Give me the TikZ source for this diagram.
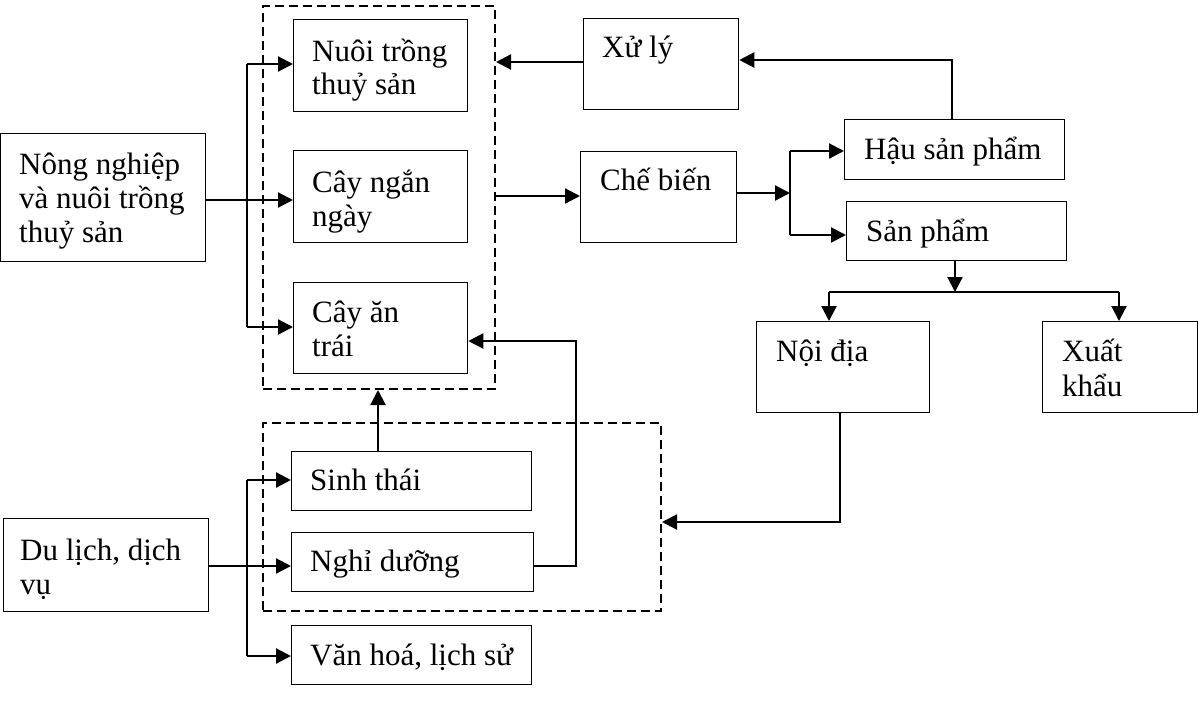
\documentclass[tikz,border=0pt]{standalone}
\usepackage{fontspec}
\setmainfont{Liberation Serif}
\usetikzlibrary{arrows.meta,calc}
\begin{document}
\begin{tikzpicture}[x=1pt,y=-1pt,
  box/.style={draw,line width=1.3pt,rectangle,inner sep=0pt,anchor=north west},
  grp/.style={draw,line width=2pt,dash pattern=on 9pt off 5pt,rectangle,inner sep=0pt,anchor=north west},
  lbl/.style={anchor=base west,inner sep=0pt,font=\fontsize{31}{34.5}\selectfont},
  arr/.style={line width=2.2pt,-{Triangle[length=15pt,width=15pt]}},
  ln/.style={line width=2.2pt},
  trunk/.style={line width=1.5pt}]
\useasboundingbox (0,0) rectangle (1200,702);
% boxes
\node[box,minimum width=205pt,minimum height=128pt] (nong) at (0,133) {};
\node[grp,minimum width=232pt,minimum height=383pt] (grp1) at (262,5) {};
\node[box,minimum width=174pt,minimum height=92pt] (nuoi) at (293,19) {};
\node[box,minimum width=174pt,minimum height=92pt] (ngan) at (293,150) {};
\node[box,minimum width=174pt,minimum height=91pt] (antrai) at (293,282) {};
\node[box,minimum width=155pt,minimum height=91pt] (xuly) at (583,18) {};
\node[box,minimum width=156pt,minimum height=91pt] (chebien) at (580,151) {};
\node[box,minimum width=220pt,minimum height=60pt] (hau) at (844,119) {};
\node[box,minimum width=220pt,minimum height=59pt] (sanpham) at (846,201) {};
\node[box,minimum width=173pt,minimum height=91pt] (noidia) at (756,321) {};
\node[box,minimum width=155pt,minimum height=91pt] (xuatkhau) at (1042,321) {};
\node[grp,minimum width=398pt,minimum height=188pt] (grp2) at (262,422) {};
\node[box,minimum width=240pt,minimum height=59pt] (sinhthai) at (291,451) {};
\node[box,minimum width=242pt,minimum height=59pt] (nghi) at (291,532) {};
\node[box,minimum width=240pt,minimum height=59pt] (vanhoa) at (291,625) {};
\node[box,minimum width=205pt,minimum height=93pt] (dulich) at (3,518) {};
% labels
\node[lbl] (tnong1) at (19,174) {Nông nghiệp};
\node[lbl] (tnong2) at (19,208) {và nuôi trồng};
\node[lbl] (tnong3) at (19,242) {thuỷ sản};
\node[lbl] (tnuoi1) at (312,61) {Nuôi trồng};
\node[lbl] (tnuoi2) at (312,94) {thuỷ sản};
\node[lbl] (tngan1) at (312,192) {Cây ngắn};
\node[lbl] (tngan2) at (312,226) {ngày};
\node[lbl] (tantrai1) at (312,322) {Cây ăn};
\node[lbl] (tantrai2) at (312,356) {trái};
\node[lbl] (txuly) at (602,57) {Xử lý};
\node[lbl] (tchebien) at (600,190) {Chế biến};
\node[lbl] (thau) at (864,159) {Hậu sản phẩm};
\node[lbl] (tsanpham) at (866,241) {Sản phẩm};
\node[lbl] (tnoidia) at (776,361) {Nội địa};
\node[lbl] (txk1) at (1062,361) {Xuất};
\node[lbl] (txk2) at (1062,396) {khẩu};
\node[lbl] (tsinhthai) at (310,490) {Sinh thái};
\node[lbl] (tnghi) at (310,571) {Nghỉ dưỡng};
\node[lbl] (tvanhoa) at (310,665) {Văn hoá, lịch sử};
\node[lbl] (tdl1) at (20,560) {Du lịch, dịch};
\node[lbl] (tdl2) at (20,594) {vụ};
% junction coordinates
\coordinate (j1) at (247,64);
\coordinate (j2) at (247,327);
\coordinate (jy) at (0,200);
\coordinate (j3) at (790,193);
\coordinate (j4) at (790,151);
\coordinate (j5) at (790,235);
\coordinate (j6) at (829,292);
\coordinate (j7) at (1119,292);
\coordinate (jm) at (955,292);
\coordinate (j8) at (840,522);
\coordinate (j9) at (576,566);
\coordinate (j10) at (576,341);
\coordinate (j11) at (378,451);
\coordinate (j12) at (247,480);
\coordinate (j13) at (247,656);
\coordinate (j14) at (0,566);
\coordinate (j15) at (952,60);
% connectors: agriculture
\draw[arr] (nong.east |- jy) -- (ngan.west |- jy);
\draw[trunk] (j1) -- (j2);
\draw[arr] (j1) -- (nuoi.west |- j1);
\draw[arr] (j2) -- (antrai.west |- j2);
% processing chain
\draw[arr] (xuly.west |- 0,62) -- (grp1.east |- 0,62);
\draw[arr] (grp1.east |- 0,196) -- (chebien.west |- 0,196);
\draw[arr] (chebien.east |- j3) -- (j3);
\draw[trunk] (j4) -- (j5);
\draw[arr] (j4) -- (hau.west |- j4);
\draw[arr] (j5) -- (sanpham.west |- j5);
\draw[arr] (hau.north -| j15) -- (j15) -- (xuly.east |- j15);
\draw[arr] (sanpham.south -| jm) -- (jm);
\draw[trunk] (j6) -- (j7);
\draw[arr] (j6) -- (noidia.north -| j6);
\draw[arr] (j7) -- (xuatkhau.north -| j7);
\draw[arr] (noidia.south -| j8) -- (j8) -- (grp2.east |- j8);
% tourism
\draw[arr] (sinhthai.north -| j11) -- (grp1.south -| j11);
\draw[arr] (nghi.east |- j9) -- (j9) -- (j10) -- (antrai.east |- j10);
\draw[arr] (dulich.east |- j14) -- (nghi.west |- j14);
\draw[trunk] (j12) -- (j13);
\draw[arr] (j12) -- (sinhthai.west |- j12);
\draw[arr] (j13) -- (vanhoa.west |- j13);
\end{tikzpicture}
\end{document}
